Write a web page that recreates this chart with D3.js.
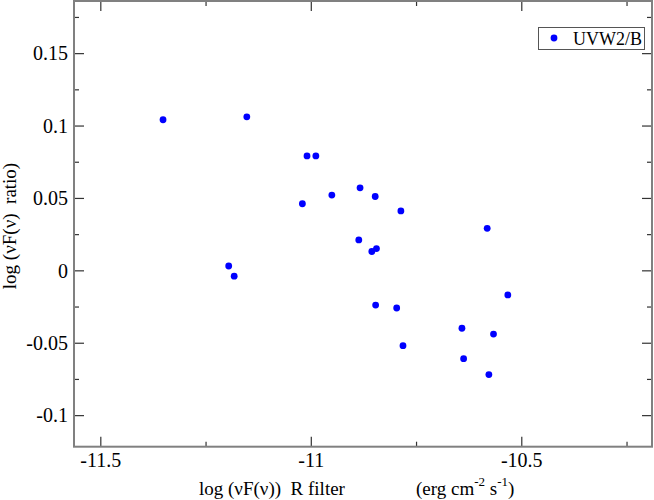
<!DOCTYPE html>
<html><head><meta charset="utf-8">
<script src="https://cdn.jsdelivr.net/npm/d3@7"></script>
<style>body{margin:0;background:#fff}svg{display:block}</style>
</head><body><svg id="c" width="654" height="500" font-family="Liberation Serif"></svg>
<script>
const xValues = [-11.351,-11.152,-11.009,-10.988,-11.020,-10.950,-10.883,-10.847,-10.786,-10.581,-10.886,-10.844,-10.855,-11.195,-11.182,-10.532,-10.846,-10.796,-10.641,-10.566,-10.781,-10.637,-10.577];
const yValues = [0.104,0.106,0.079,0.079,0.046,0.052,0.057,0.051,0.041,0.029,0.021,0.015,0.013,0.003,-0.004,-0.017,-0.024,-0.026,-0.040,-0.044,-0.052,-0.061,-0.072];
const xMajor = [-11.5,-11,-10.5];
const xMajorLabels = ["-11.5","-11","-10.5"];
const xMinor = [-11.25,-10.75,-10.25];
const yMajor = [-0.1,-0.05,0,0.05,0.1,0.15];
const yMajorLabels = ["-0.1","-0.05","0","0.05","0.1","0.15"];
const yMinor = [-0.075,-0.025,0.025,0.075,0.125,0.175];
const seriesName = "UVW2/B";

const FONT = "Liberation Serif";
const svg = d3.select("#c");
const L=74, R=652, T=1, B=446.7;
const x = d3.scaleLinear().domain([-11.5625,-10.1895]).range([L,R]);
const y = d3.scaleLinear().domain([-0.1218,0.1867]).range([B,0]);

const tickCol="#333";
function ax(gen, tr, vals, size, fmt){
  const g = svg.append("g").attr("transform",tr)
    .call(gen.tickValues(vals).tickSize(size).tickSizeOuter(0).tickFormat(fmt||(()=>"")));
  g.attr("font-family",FONT).attr("font-size",20);
  g.select(".domain").remove();
  g.selectAll(".tick line").attr("stroke",tickCol).attr("stroke-width",1.2);
  g.selectAll(".tick text").attr("font-family",FONT).attr("fill","#000");
  return g;
}
// bottom
const gb = ax(d3.axisBottom(x), `translate(0,${B})`, xMajor, -10, (d,i)=>xMajorLabels[i]);
gb.selectAll(".tick text").attr("y",20).attr("dy",null).attr("font-size",20);
ax(d3.axisBottom(x), `translate(0,${B})`, xMinor, -5);
// top
ax(d3.axisTop(x), `translate(0,${T})`, xMajor, -10);
ax(d3.axisTop(x), `translate(0,${T})`, xMinor, -5);
// left
const gl = ax(d3.axisLeft(y), `translate(${L},0)`, yMajor, -10, (d,i)=>yMajorLabels[i]);
gl.selectAll(".tick text").attr("x",-6).attr("dy","0.34em").attr("font-size",20);
ax(d3.axisLeft(y), `translate(${L},0)`, yMinor, -5);
// right
ax(d3.axisRight(y), `translate(${R},0)`, yMajor, -10);
ax(d3.axisRight(y), `translate(${R},0)`, yMinor, -5);

// frame
svg.append("rect").attr("x",L).attr("y",T).attr("width",R-L).attr("height",B-T)
  .attr("fill","none").attr("stroke","#808080").attr("stroke-width",2);

// points
svg.append("g").selectAll("circle").data(xValues.map((v,i)=>[v,yValues[i]])).join("circle")
  .attr("cx",d=>x(d[0])).attr("cy",d=>y(d[1])).attr("r",3.4).attr("fill","#0000ff");

// legend
svg.append("rect").attr("x",538.5).attr("y",27.5).attr("width",106).attr("height",22)
  .attr("fill","#fff").attr("stroke","#555").attr("stroke-width",1);
svg.append("circle").attr("cx",554).attr("cy",38).attr("r",3.4).attr("fill","#0000ff");
svg.append("text").attr("x",573).attr("y",45).attr("font-size",18).attr("font-family",FONT).text(seriesName);

// y title
svg.append("text").attr("transform","translate(16,226) rotate(-90)").attr("text-anchor","middle")
  .attr("font-size",19).attr("font-family",FONT).style("white-space","pre").text("log (\u03bdF(\u03bd)  ratio)");

// x title
const xt = svg.append("text").attr("y",495).attr("font-size",19).attr("font-family",FONT).style("white-space","pre");
xt.append("tspan").attr("x",199).text("log (\u03bdF(\u03bd))  R filter");
xt.append("tspan").attr("x",416).text("(erg cm");
xt.append("tspan").attr("dy",-9).attr("font-size",13).text("-2");
xt.append("tspan").attr("dy",9).text(" s");
xt.append("tspan").attr("dy",-9).attr("font-size",13).text("-1");
xt.append("tspan").attr("dy",9).text(")");
</script></body></html>
